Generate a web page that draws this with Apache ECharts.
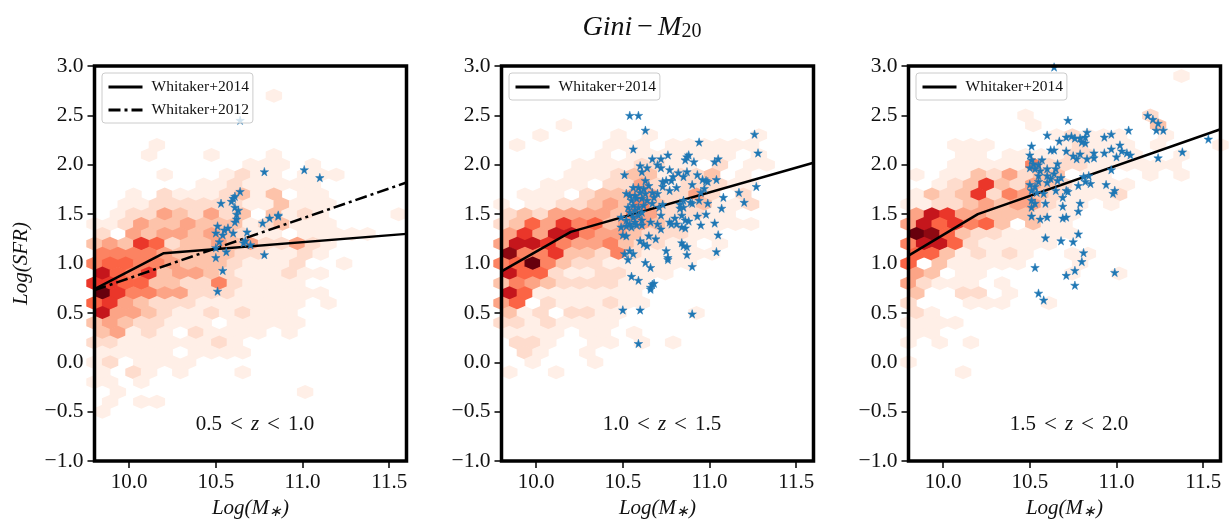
<!DOCTYPE html>
<html><head><meta charset="utf-8">
<style>html,body{margin:0;padding:0;background:#fff}#c{width:1230px;height:520px}</style>
<script src="https://cdn.jsdelivr.net/npm/echarts@6/dist/echarts.min.js"></script>
</head><body><div id="c"></div>
<script>
const xTicks=[10.0,10.5,11.0,11.5];
const yTicks=[-1.0,-0.5,0.0,0.5,1.0,1.5,2.0,2.5,3.0];
const panelLabels=["0.5","1.0","1.5","2.0"];
// hexbin counts (shade 1..9,a), one string per lattice row; row key = 10*Log(SFR)
const hexRows1=[[27,"...........1"],[22,"....1"],[21,"...1...1...1"],[20,"..........111.1"],[19,"....1...1211.111"],[18,".......11211111"],[17,"..1.21112313.11"],[16,"..11222222113111"],[15,".122432423.3121....1"],[14,"1124334333123111"],[13,"2.4344343211.11111"],[12,"3437623343422421"],[11,"555543333221121"],[10,"56655433321112..1"],[9,"865734432111211"],[8,"77663322521111"],[7,"a75544222111111"],[6,"67432221111111.1"],[5,"8443211212111"],[4,"34322111.11111"],[3,"34121.21111.1"],[2,"2211111121"],[1,"11111.1111"],[0,"12.1111"],[-1,"1.21.1...1"],[-2,"11.1"],[-3,".1...........1"],[-4,".1.11"],[-5,"1"]];
const hexRows2=[[24,"....1"],[23,"..1....1.1......1"],[22,".1.....111.111111"],[21,"......1.1111111.1"],[20,".....11112211.2.11"],[19,"....1112331223.1"],[18,"...111.2242122211"],[17,".111.233442242.2"],[16,"1.112234353223112"],[15,"232444435422211"],[14,"23647563443211111"],[13,"47488544322211"],[12,"4887544532211.1"],[11,"95573325211111"],[10,"56a5322111111"],[9,"86621122111"],[8,"3543222211"],[7,"861111111"],[6,"46.2111211"],[5,"312.2211....1"],[4,"22121111"],[3,"1111.11.1"],[2,".221..11.1.1"],[1,".21..1"],[0,"..1...1"],[-1,"1..1"]];
const hexRows3=[[29,".................1"],[25,".......1.......2"],[24,"........1.......3"],[23,".........12111..1"],[22,"...111....12111.1...1"],[21,"...11.111122111..1"],[20,"...111115222111111"],[19,"1.11324233.11..1.1"],[18,"..1237324321111"],[17,"13237254321112"],[16,"112234344211.1"],[15,"48744333211"],[14,"4867563.311"],[13,"a9632211111"],[12,"5886211111"],[11,"66312121..11"],[10,"6.311111...1"],[9,"43.11.....1..1"],[8,"42111.1"],[7,"3..22.1"],[6,"2...111..1"],[5,"21"],[4,"1111"],[3,"11"],[2,"1.1.1"],[0,"1"],[-1,"...1"]];
const stars1=[[10.64,2.45],[10.78,1.93],[11.01,1.95],[11.10,1.87],[10.64,1.73],[10.61,1.68],[10.60,1.66],[10.59,1.63],[10.53,1.61],[10.61,1.57],[10.63,1.54],[10.62,1.50],[10.62,1.45],[10.61,1.42],[10.77,1.41],[10.81,1.46],[10.86,1.49],[10.86,1.48],[10.51,1.38],[10.50,1.31],[10.54,1.29],[10.55,1.34],[10.57,1.36],[10.60,1.31],[10.68,1.32],[10.52,1.22],[10.50,1.16],[10.66,1.21],[10.67,1.23],[10.70,1.19],[10.56,1.12],[10.50,1.06],[10.78,1.09],[10.54,0.93],[10.51,0.72]];
const stars2=[[10.54,2.50],[10.59,2.50],[10.63,2.35],[10.56,2.16],[11.26,2.31],[11.28,2.12],[10.94,2.23],[10.67,2.06],[10.72,2.06],[10.76,2.10],[10.87,2.08],[10.88,2.10],[10.86,2.05],[10.91,2.03],[11.03,2.03],[11.05,2.06],[10.60,1.99],[10.64,1.97],[10.61,1.93],[10.70,2.00],[10.72,1.97],[10.77,1.95],[10.51,1.90],[10.82,1.92],[10.79,1.88],[10.85,1.88],[10.93,1.90],[10.87,1.93],[11.04,1.85],[10.63,1.84],[10.75,1.84],[10.78,1.84],[10.81,1.77],[10.96,1.85],[10.98,1.84],[10.99,1.83],[10.97,1.76],[10.90,1.80],[11.27,1.78],[11.17,1.72],[10.95,1.72],[10.77,1.74],[10.73,1.78],[10.73,1.83],[10.56,1.77],[10.59,1.77],[10.62,1.76],[10.65,1.79],[10.67,1.72],[10.70,1.71],[10.52,1.71],[10.54,1.69],[10.57,1.69],[10.60,1.72],[10.63,1.71],[10.55,1.64],[10.58,1.66],[10.61,1.66],[10.64,1.64],[10.68,1.67],[11.08,1.67],[11.20,1.62],[10.99,1.61],[11.07,1.56],[10.53,1.57],[10.56,1.59],[10.59,1.57],[10.62,1.59],[10.54,1.52],[10.57,1.54],[10.61,1.52],[10.67,1.61],[10.71,1.57],[10.73,1.60],[10.83,1.60],[10.85,1.64],[10.90,1.61],[10.94,1.64],[10.89,1.62],[10.85,1.57],[10.83,1.56],[10.49,1.47],[10.52,1.44],[10.56,1.47],[10.59,1.49],[10.61,1.44],[10.57,1.42],[10.54,1.40],[10.72,1.49],[10.77,1.42],[10.80,1.46],[10.81,1.40],[10.84,1.49],[10.86,1.44],[10.88,1.43],[10.93,1.48],[10.98,1.50],[10.95,1.39],[11.03,1.41],[10.49,1.37],[10.52,1.38],[10.55,1.37],[10.58,1.39],[10.61,1.39],[10.66,1.42],[10.70,1.40],[10.72,1.35],[10.78,1.40],[10.84,1.37],[10.86,1.36],[10.50,1.29],[10.52,1.28],[10.65,1.28],[10.69,1.25],[11.05,1.29],[10.60,1.23],[10.62,1.20],[10.64,1.18],[10.84,1.21],[10.85,1.18],[10.87,1.17],[10.51,1.10],[10.54,1.13],[10.56,1.10],[10.53,1.04],[11.04,1.12],[10.75,1.13],[10.76,1.06],[10.76,1.04],[10.87,1.09],[10.63,1.01],[10.66,0.96],[10.90,0.97],[10.55,0.87],[10.59,0.83],[10.68,0.80],[10.67,0.79],[10.66,0.76],[10.66,0.74],[10.50,0.53],[10.60,0.53],[10.90,0.49],[10.59,0.19]];
const stars3=[[10.64,2.99],[10.72,2.45],[10.60,2.30],[10.71,2.28],[10.74,2.29],[10.76,2.27],[10.67,2.24],[10.79,2.27],[10.82,2.28],[10.83,2.33],[10.80,2.23],[10.82,2.22],[10.93,2.28],[10.97,2.31],[11.07,2.35],[11.18,2.50],[11.21,2.46],[11.24,2.42],[11.23,2.35],[11.27,2.35],[10.51,2.19],[10.62,2.15],[10.64,2.15],[10.71,2.14],[10.79,2.11],[10.93,2.12],[10.97,2.16],[11.02,2.20],[11.03,2.14],[11.06,2.12],[11.08,2.10],[11.00,2.08],[10.75,2.09],[10.77,2.06],[10.83,2.06],[10.87,2.12],[10.87,2.07],[11.24,2.07],[11.38,2.13],[11.53,2.26],[10.50,2.10],[10.51,2.05],[10.57,2.05],[10.52,2.01],[10.55,2.00],[10.66,2.01],[10.50,1.97],[10.53,1.96],[10.56,1.94],[10.60,1.96],[10.65,1.96],[10.97,1.95],[10.55,1.89],[10.60,1.89],[10.64,1.91],[10.62,1.86],[10.68,1.87],[10.66,1.84],[10.81,1.88],[10.84,1.89],[10.82,1.83],[10.85,1.81],[10.50,1.80],[10.53,1.78],[10.60,1.82],[10.55,1.83],[10.78,1.79],[10.94,1.80],[10.99,1.74],[10.98,1.71],[10.51,1.74],[10.54,1.72],[10.58,1.71],[10.65,1.74],[10.71,1.74],[10.72,1.73],[10.69,1.67],[10.51,1.64],[10.53,1.61],[10.51,1.57],[10.59,1.61],[10.69,1.58],[10.79,1.61],[10.78,1.53],[10.51,1.48],[10.56,1.45],[10.60,1.47],[10.69,1.46],[10.71,1.47],[10.78,1.30],[10.59,1.26],[10.68,1.23],[10.75,1.22],[10.81,1.11],[10.80,1.02],[10.53,0.96],[10.76,0.93],[10.71,0.88],[10.99,0.91],[10.76,0.78],[10.55,0.70],[10.58,0.63]];
const w14a=[[9.8,0.74],[10.2,1.105],[11.6,1.30]];
const w14b=[[9.8,0.92],[10.2,1.32],[11.6,2.02]];
const w14c=[[9.8,1.08],[10.2,1.50],[11.6,2.36]];
const w12a=[[9.8,0.73],[11.6,1.82]];

const REDS=["#ffefe7","#fedccd","#fdc3aa","#fca486","#fc8362","#fb6445","#ea362a","#c5161c","#8e0912","#67000d"];
const HEX="path://M50 0L100 25L100 75L50 100L0 75L0 25Z";
const STAR="path://M50 0L61 35L98 35L68 57L79 91L50 70L21 91L32 57L2 35L39 35Z";
const SERIF="Liberation Serif";
function hexData(rows){const out=[];rows.forEach(([n,s])=>{const odd=Math.abs(n)%2;
  [...s].forEach((c,i)=>{if(c==='.')return;const k=2*i+odd;out.push([9.8+0.045*k,n/10,c==='a'?10:+c]);});});return out;}
const lefts=[94.5,501.5,908.5],W=312,T=66,H=395;
const hexes=[hexRows1,hexRows2,hexRows3],stars=[stars1,stars2,stars3],w14=[w14a,w14b,w14c];
const grids=[],xAxes=[],yAxes=[],series=[],legends=[],titles=[],frames=[];
const base={fontFamily:SERIF,fontWeight:'normal',color:'#111'};
const mStar={i:{...base,fontStyle:'italic',fontSize:21},s:{...base,fontStyle:'italic',fontSize:15,padding:[7,0,0,0]}};
lefts.forEach((L,p)=>{
  grids.push({left:L,top:T,width:W,height:H,show:false,outerBoundsMode:'none'});
  xAxes.push({type:'value',gridIndex:p,min:9.8,max:11.6,position:'bottom',
    splitLine:{show:false},axisLine:{show:false,onZero:false},
    axisTick:{show:true,length:7,lineStyle:{width:1.5,color:'#000'},customValues:xTicks},
    axisLabel:{fontFamily:SERIF,fontSize:21,color:'#111',margin:11,customValues:xTicks,formatter:v=>v.toFixed(1)},
    name:'{i|Log(M}{s|∗}{i|)}',nameLocation:'middle',nameGap:36,nameTextStyle:{rich:mStar}});
  yAxes.push({type:'value',gridIndex:p,min:-1,max:3,position:'left',
    splitLine:{show:false},axisLine:{show:false,onZero:false},
    axisTick:{show:true,length:7,lineStyle:{width:1.5,color:'#000'},customValues:yTicks},
    axisLabel:{fontFamily:SERIF,fontSize:21.5,color:'#111',margin:11,customValues:yTicks,formatter:v=>v.toFixed(1).replace('-','\u2212')},
    name:p===0?'Log(SFR)':'',nameLocation:'middle',nameGap:63,nameTextStyle:{fontFamily:SERIF,fontStyle:'italic',fontSize:21,color:'#111'}});
  series.push({type:'scatter',xAxisIndex:p,yAxisIndex:p,z:2,silent:true,symbol:HEX,symbolSize:[16.4,14],
    data:hexData(hexes[p]),itemStyle:{opacity:1,color:q=>REDS[q.value[2]-1]}});
  series.push({type:'line',name:'Whitaker+2014',xAxisIndex:p,yAxisIndex:p,z:3,symbol:'none',silent:true,
    data:w14[p],itemStyle:{color:'#000'},lineStyle:{color:'#000',width:2.5}});
  if(p===0)series.push({type:'line',name:'Whitaker+2012',xAxisIndex:p,yAxisIndex:p,z:3,symbol:'none',silent:true,
    data:w12a,itemStyle:{color:'#000'},lineStyle:{color:'#000',width:2.5,type:[12,4,3,4]}});
  series.push({type:'scatter',xAxisIndex:p,yAxisIndex:p,z:4,silent:true,symbol:STAR,symbolSize:8.5,
    data:stars[p],itemStyle:{color:'#1f77b4',opacity:1,borderColor:'#1f77b4',borderWidth:0.5}});
  legends.push({left:L+7.5,top:73,orient:'vertical',selectedMode:false,
    data:p===0?['Whitaker+2014','Whitaker+2012']:['Whitaker+2014'],
    itemWidth:34,itemHeight:14,itemGap:7,padding:[6,4,5,5],itemStyle:{opacity:0},lineStyle:{width:3},
    backgroundColor:'rgba(255,255,255,0.8)',borderColor:'#ccc',borderWidth:1,borderRadius:3,
    textStyle:{fontFamily:SERIF,fontSize:15.5,color:'#111',padding:[0,0,0,4]},z:20});
  const o={...base,fontSize:23,padding:[0,8,0,8]};
  titles.push({text:`{n|${panelLabels[p]}}{o|<}{i|z}{o|<}{n|${panelLabels[p+1]}}`,left:L+155.5,top:408,textAlign:'center',
    textStyle:{rich:{n:{...base,fontSize:21},o,i:{...base,fontStyle:'italic',fontSize:21}}}});
  frames.push({type:'rect',z:50,silent:true,shape:{x:L,y:T,width:W,height:H},style:{fill:null,stroke:'#000',lineWidth:3.5}});
});
titles.push({text:'{i|Gini}{n|\u2212}{i|M}{s|20}',left:637,top:8,textAlign:'center',
  textStyle:{rich:{i:{...base,fontStyle:'italic',fontSize:28},n:{...base,fontSize:28,padding:[0,5,0,5]},s:{...base,fontSize:20,padding:[9,0,0,0]}}}});
const chart=echarts.init(document.getElementById('c'),null,{renderer:'canvas'});
chart.setOption({animation:false,backgroundColor:'#fff',grid:grids,xAxis:xAxes,yAxis:yAxes,series,legend:legends,title:titles,graphic:frames});
</script></body></html>
